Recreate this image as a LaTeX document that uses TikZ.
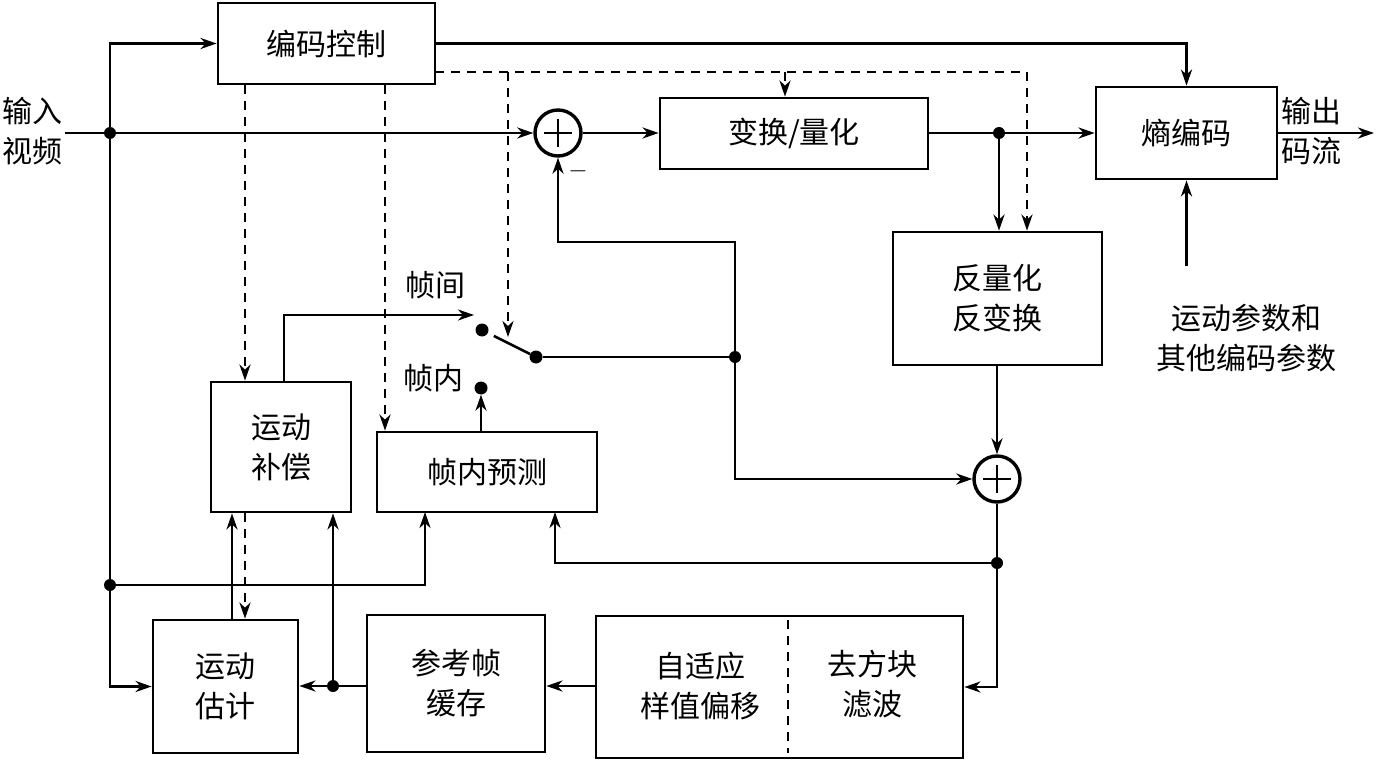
\documentclass[tikz,border=0pt]{standalone}
\usepackage{fontspec}
\setmainfont{Noto Sans CJK SC}
\usetikzlibrary{arrows.meta,calc}
\begin{document}
\begin{tikzpicture}[x=1pt,y=-1pt,
  blk/.style={draw, line width=2.8pt, inner sep=0pt, align=center, font=\fontsize{30}{40}\selectfont},
  lbl/.style={inner sep=0pt, align=center, font=\fontsize{30}{40}\selectfont},
  ln/.style={line width=2.6pt},
  arr/.style={line width=2.6pt, -{Stealth[length=16pt,width=11pt,inset=5pt]}},
  dsh/.style={dash pattern=on 9pt off 7pt},
  sumnode/.style={draw, circle, line width=3.4pt, minimum size=46pt, inner sep=0pt},
  jdot/.style={circle, fill, inner sep=0pt, minimum size=12pt}
]
\useasboundingbox (0,0) rectangle (1376,762);

% blocks
\node[blk, minimum width=217pt, minimum height=81pt] (ctrl) at (326.5,43.5) {编码控制};
\node[blk, minimum width=268pt, minimum height=71pt] (tq) at (794,133.5) {变换/量化};
\node[blk, minimum width=181pt, minimum height=92pt] (ent) at (1186.5,133) {熵编码};
\node[blk, minimum width=209pt, minimum height=133pt] (iq) at (997.5,298.5) {反量化\\反变换};
\node[blk, minimum width=140pt, minimum height=130pt] (mc) at (281,447) {运动\\补偿};
\node[blk, minimum width=220pt, minimum height=80pt] (ip) at (487,472) {帧内预测};
\node[blk, minimum width=145pt, minimum height=133pt] (me) at (225.5,686.5) {运动\\估计};
\node[blk, minimum width=178pt, minimum height=137pt] (rb) at (456,683.5) {参考帧\\缓存};
\node[blk, minimum width=367pt, minimum height=142pt] (lf) at (779.5,687) {};
\node[lbl] (lfa) at (700,686) {自适应\\样值偏移};
\node[lbl] (lfb) at (872,684) {去方块\\滤波};
\coordinate (dv1) at (788,620);
\coordinate (dv2) at (788,753);
\draw[ln,dsh] (dv1) -- (dv2);

% adders
\node[sumnode] (s1) at (558,133) {};
\node[sumnode] (s2) at (997,479) {};
\foreach \s in {s1,s2} {
  \draw[line width=1.8pt] ($(\s)+(-14,0)$) -- ($(\s)+(14,0)$);
  \draw[line width=1.8pt] ($(\s)+(0,-14)$) -- ($(\s)+(0,14)$);
}
\node[inner sep=0pt] (minus) at (578,171) {\fontsize{28}{28}\selectfont$-$};

% labels
\node[lbl] (invid) at (32,131) {输入\\视频};
\node[lbl] (outs) at (1311,131) {输出\\码流};
\node[lbl] (param) at (1246,338) {运动参数和\\其他编码参数};
\node[lbl] (inter) at (435,285) {帧间};
\node[lbl] (intra) at (433,378) {帧内};

% junction dots
\node[jdot] (j1) at (110,133) {};
\node[jdot] (j2) at (110,585) {};
\node[jdot] (j3) at (999,133) {};
\node[jdot] (j4) at (997,563) {};
\node[jdot] (j5) at (735,357) {};
\node[jdot] (j6) at (333,686) {};
\node[jdot, minimum size=13pt] (up) at (482,330) {};
\node[jdot, minimum size=13pt] (piv) at (536,357) {};
\node[jdot, minimum size=13pt] (dn) at (481,388) {};

% coordinates
\coordinate (inL) at (65,133);
\coordinate (outE) at (1374,133);
\coordinate (parT) at (1186.5,266);
\coordinate (dA) at (435,72);
\coordinate (dB) at (1027,72);
\coordinate (dC) at (508,72);
\coordinate (dCe) at (508,337);
\coordinate (dD) at (785,72);
\coordinate (xE) at (245,0);
\coordinate (xF) at (385,0);
\coordinate (xMT) at (284,0);
\coordinate (xME) at (232,0);
\coordinate (ipA) at (425,512);
\coordinate (ipB) at (555,512);
\coordinate (c1) at (735,242);
\coordinate (c2) at (474,315);

% solid connectors
\draw[arr] (inL) -- (s1.west);
\draw[arr] (j1) |- (ctrl.west);
\draw[arr] (j1) |- (me.west);
\draw[arr] (j2) -| (ipA);
\draw[arr] (ctrl.east) -| (ent.north);
\draw[arr] (s1.east) -- (tq.west |- s1.east);
\draw[ln] (tq.east |- j3) -- (j3);
\draw[arr] (j3) -- (ent.west);
\draw[arr] (j3) -- (j3 |- iq.north);
\draw[arr] (ent.east) -- (outE);
\draw[arr] (parT) -- (ent.south);
\draw[arr] (iq.south -| s2) -- (s2.north);
\draw[ln] (s2.south) -- (j4);
\draw[arr] (j4) |- (lf.east);
\draw[arr] (j4) -| (ipB);
\draw[ln] (piv) -- (j5);
\draw[ln] (piv) -- ($(piv)!0.78!(up)$);
\draw[arr] (j5) -- (c1) -| (s1.south);
\draw[arr] (j5) |- (s2.west);
\draw[arr] (mc.north -| xMT) |- (c2);
\draw[arr] (ip.north -| dn) -- (dn.south);
\draw[arr] (me.north -| xME) -- (mc.south -| xME);
\draw[ln] (rb.west |- j6) -- (j6);
\draw[arr] (j6) -- (me.east |- j6);
\draw[arr] (j6) -- (j6 |- mc.south);
\draw[arr] (lf.west |- j6) -- (rb.east |- j6);

% dashed control connectors
\draw[ln,dsh] (dA) -- (dB);
\draw[ln,dsh,arr] (dB) -- (dB |- iq.north);
\draw[ln,dsh,arr] (dC) -- (dCe);
\draw[ln,dsh,arr] (dD) -- (dD |- tq.north);
\draw[ln,dsh,arr] (ctrl.south -| xE) -- (mc.north -| xE);
\draw[ln,dsh,arr] (ctrl.south -| xF) -- (ip.north -| xF);
\draw[ln,dsh,arr] (mc.south -| xE) -- (me.north -| xE);
\end{tikzpicture}
\end{document}
